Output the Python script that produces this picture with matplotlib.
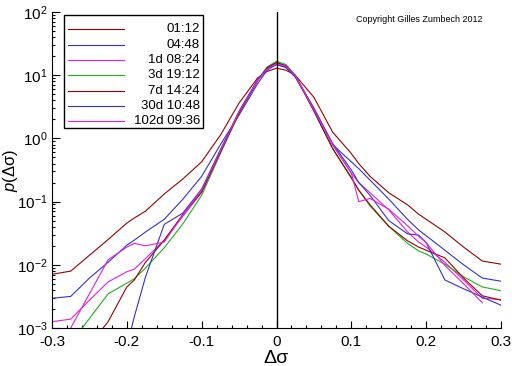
import numpy as np
import matplotlib
matplotlib.use("Agg")
import matplotlib.pyplot as plt
from matplotlib.ticker import MultipleLocator, LogLocator, NullFormatter
from matplotlib.patches import Rectangle

plt.rcParams['font.family'] = ['Liberation Sans', 'DejaVu Sans']
plt.rcParams['mathtext.fontset'] = 'custom'
plt.rcParams['mathtext.rm'] = 'Liberation Sans'
plt.rcParams['mathtext.it'] = 'Liberation Sans:italic'

# grid of volatility increments
dsigma = [-0.3, -0.275, -0.25, -0.225, -0.2, -0.19, -0.175, -0.15, -0.125, -0.1,
          -0.075, -0.05, -0.025, -0.0125, 0.0, 0.0125, 0.025, 0.05, 0.075, 0.1,
          0.11, 0.125, 0.15, 0.175, 0.19, 0.2, 0.225, 0.25, 0.275, 0.3]

# log10 of the pdf
log_p_0112 = [-2.15, -2.10, -1.85, -1.60, -1.34, -1.26, -1.15, -0.88, -0.64, -0.37,
              0.05, 0.56, 0.96, 1.06, 1.11, 1.08, 1.00, 0.65, 0.10, -0.24,
              -0.40, -0.60, -0.86, -1.05, -1.20, -1.28, -1.48, -1.72, -1.94, -1.99]
log_p_0448 = [-2.53, -2.50, -2.21, -1.96, -1.69, -1.61, -1.48, -1.28, -0.96, -0.60,
              -0.10, 0.37, 0.87, 1.08, 1.17, 1.12, 0.97, 0.48, -0.10, -0.37,
              -0.48, -0.66, -0.96, -1.28, -1.45, -1.54, -1.77, -2.00, -2.21, -2.26]
log_p_1d = [-2.90, -2.86, -2.56, -2.27, -2.11, -2.07, -1.90, -1.61, -1.23, -0.85,
            -0.20, 0.42, 0.93, 1.12, 1.19, 1.15, 1.00, 0.47, -0.10, -0.55,
            -0.70, -0.86, -1.13, -1.48, -1.64, -1.72, -1.96, -2.24, -2.53, -2.55]
log_p_3d = [-3.50, -3.24, -2.85, -2.46, -2.29, -2.22, -2.05, -1.73, -1.35, -0.90,
            -0.24, 0.40, 0.92, 1.13, 1.22, 1.17, 1.00, 0.44, -0.16, -0.63,
            -0.82, -1.07, -1.39, -1.66, -1.78, -1.83, -1.99, -2.19, -2.35, -2.41]
log_p_7d = [-3.80, -3.55, -3.27, -2.90, -2.35, -2.24, -1.96, -1.61, -1.20, -0.85,
            -0.22, 0.40, 0.92, 1.12, 1.20, 1.15, 0.99, 0.43, -0.16, -0.62,
            -0.82, -1.05, -1.39, -1.62, -1.72, -1.77, -1.89, -2.21, -2.49, -2.56]
log_p_30d = [-4.5, -4.5, -4.5, -4.0, -3.30, -2.82, -2.19, -1.36, -1.18, -0.80,
             -0.18, 0.43, 0.93, 1.10, 1.17, 1.13, 0.98, 0.47, -0.08, -0.50,
             -0.70, -0.90, -1.30, -1.51, -1.53, -1.65, -2.24, -2.38, -2.51, -2.64]
log_p_102d = [-3.60, -3.00, -2.46, -1.92, -1.72, -1.66, -1.70, -1.64, -1.21, -0.82,
              -0.20, 0.42, 0.92, 1.10, 1.18, 1.14, 0.99, 0.45, -0.10, -0.55,
              -1.00, -0.95, -1.12, -1.38, -1.55, -1.65, -2.01, -2.30, -2.60, np.nan]

labels = ["01:12", "04:48", "1d 08:24", "3d 19:12", "7d 14:24", "30d 10:48", "102d 09:36"]
series = [log_p_0112, log_p_0448, log_p_1d, log_p_3d, log_p_7d, log_p_30d, log_p_102d]

RED = '#990000'
BLUE = '#3333cc'
MAG = '#e020e0'
GREEN = '#1fb01f'
colors = [RED, BLUE, MAG, GREEN, RED, BLUE, MAG]

fig = plt.figure(figsize=(5.12, 3.66), dpi=100)
ax = fig.add_axes([52/512, 1-328/366, 449/512, 316/366])

x = np.array(dsigma)
for lp, c in zip(series, colors):
    ax.plot(x, 10.0**np.array(lp), color=c, lw=0.8)

ax.axvline(0, color='k', lw=1.0)

ax.set_yscale('log')
ax.set_xlim(-0.3, 0.3)
ax.set_ylim(1e-3, 1e2)

ax.spines['top'].set_visible(False)
ax.spines['right'].set_visible(False)
ax.xaxis.set_major_locator(MultipleLocator(0.1))
ax.xaxis.set_minor_locator(MultipleLocator(0.02))
ax.xaxis.set_major_formatter(plt.FuncFormatter(lambda v, p: '0' if abs(v) < 1e-9 else f'{v:.1f}'))
ax.yaxis.set_major_locator(LogLocator(base=10, numticks=10))
ax.yaxis.set_minor_locator(LogLocator(base=10, subs=np.arange(2, 10), numticks=20))
ax.yaxis.set_minor_formatter(NullFormatter())
ax.tick_params(which='major', direction='in', length=5, width=0.8, labelsize=11)
ax.tick_params(which='minor', direction='in', length=2.5, width=0.8)
ax.tick_params(axis='x', which='major', pad=5)
ax.tick_params(axis='y', which='major', length=6, labelsize=11, pad=3)

ax.set_xlabel('Δσ', fontsize=14, labelpad=1)
ax.set_ylabel(r'$\it{p}$(Δσ)', fontsize=12)
ax.yaxis.set_label_coords(-0.072, 0.5)

ax.text(0.817, 0.99, 'Copyright Gilles Zumbech 2012', transform=ax.transAxes,
        fontsize=6.5, ha='center', va='top')

# legend box drawn by hand so the labels sit right-aligned
def ax_x(px):
    return (px - 52) / 449

def ax_y(py):
    return (328 - py) / 316

ax.add_patch(Rectangle((ax_x(64), ax_y(128)), ax_x(203) - ax_x(64), ax_y(15) - ax_y(128),
                       transform=ax.transAxes, facecolor='white', edgecolor='k', lw=1.0, zorder=5))
for i, (lab, c) in enumerate(zip(labels, colors)):
    yy = ax_y(29.3 + i * 15.3)
    ax.plot([ax_x(68), ax_x(124)], [yy, yy], color=c, lw=0.8, transform=ax.transAxes, zorder=6)
    ax.text(ax_x(200), yy, lab, transform=ax.transAxes, ha='right', va='center',
            fontsize=9.5, zorder=6)

fig.savefig('out.png', dpi=100)
